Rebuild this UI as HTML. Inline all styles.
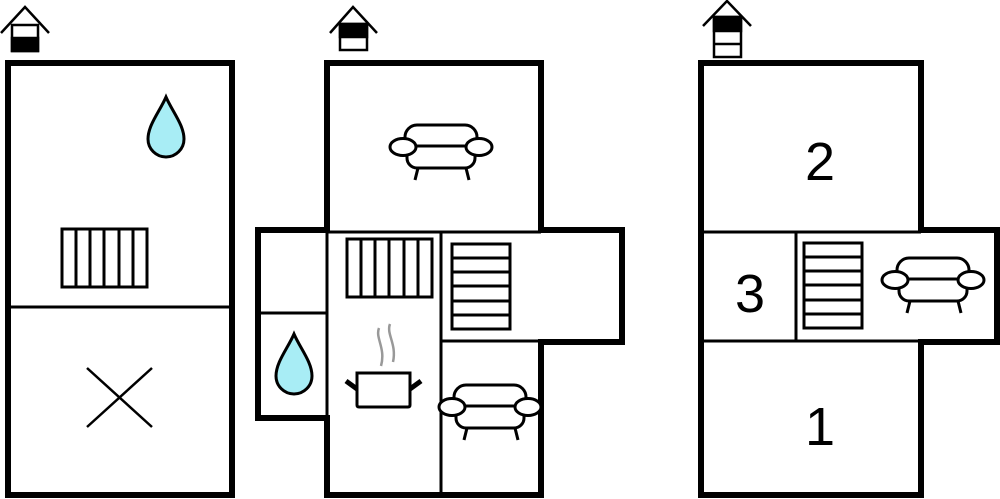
<!DOCTYPE html>
<html><head><meta charset="utf-8"><style>body{margin:0;background:#fff}svg{display:block}text{font-family:"Liberation Sans",sans-serif}</style></head><body>
<svg width="1000" height="499" viewBox="0 0 1000 499" xmlns="http://www.w3.org/2000/svg">
<defs>
<g id="sofa" fill="#fff" stroke="#000" stroke-width="3">
<rect x="-36" y="-23" width="72" height="28" rx="12"/>
<rect x="-34" y="-2" width="68" height="22" rx="10"/>
<ellipse cx="-38" cy="-1" rx="13" ry="8.5"/>
<ellipse cx="38" cy="-1" rx="13" ry="8.5"/>
<line x1="-23" y1="20" x2="-26" y2="32"/>
<line x1="25" y1="20" x2="28" y2="32"/>
</g>
<g id="drop"><path d="M0,0 C-6,14 -18,28 -18,42 A18,18 0 0 0 18,42 C18,28 6,14 0,0Z" fill="#a8edf5" stroke="#000" stroke-width="3"/></g>
<g id="stairsH" fill="none" stroke="#000" stroke-width="3">
<rect x="0" y="0" width="58" height="85"/>
<line x1="0" y1="14" x2="58" y2="14"/><line x1="0" y1="28" x2="58" y2="28"/><line x1="0" y1="42" x2="58" y2="42"/><line x1="0" y1="57" x2="58" y2="57"/><line x1="0" y1="71" x2="58" y2="71"/>
</g>
<g id="rad" fill="none" stroke="#000" stroke-width="3">
<rect x="0" y="0" width="85" height="58"/>
<line x1="14" y1="0" x2="14" y2="58"/><line x1="28" y1="0" x2="28" y2="58"/><line x1="42" y1="0" x2="42" y2="58"/><line x1="57" y1="0" x2="57" y2="58"/><line x1="71" y1="0" x2="71" y2="58"/>
</g>
</defs>
<!-- houses -->
<g stroke="#000" stroke-width="2.5" fill="none">
<polyline points="1,33 25,7 49,33"/>
<rect x="12" y="25" width="26" height="26" fill="#fff"/>
<rect x="12" y="38" width="26" height="13" fill="#000"/>
<polyline points="330,33 353,7 377,33"/>
<rect x="340" y="24" width="27" height="26" fill="#fff"/>
<rect x="340" y="24" width="27" height="13" fill="#000"/>
<polyline points="703,26 727,1 751,26"/>
<rect x="714" y="17" width="27" height="40" fill="#fff"/>
<rect x="714" y="17" width="27" height="14" fill="#000"/>
<line x1="714" y1="44" x2="741" y2="44"/>
</g>
<!-- plan 1 -->
<rect x="8" y="63" width="224" height="432" fill="none" stroke="#000" stroke-width="6"/>
<line x1="8" y1="307" x2="232" y2="307" stroke="#000" stroke-width="3"/>
<use href="#drop" x="166" y="97"/>
<use href="#rad" x="62" y="229"/>
<g stroke="#000" stroke-width="2.5"><line x1="87" y1="368" x2="152" y2="427"/><line x1="152" y1="368" x2="87" y2="427"/></g>
<!-- plan 2 -->
<g stroke="#000" stroke-width="3" fill="none">
<line x1="327" y1="232" x2="541" y2="232"/>
<line x1="258" y1="313" x2="327" y2="313"/>
<line x1="327" y1="232" x2="327" y2="418"/>
<line x1="441" y1="232" x2="441" y2="495"/>
<line x1="441" y1="341" x2="541" y2="341"/>
</g>
<polygon points="327,63 541,63 541,230 622,230 622,342 541,342 541,495 327,495 327,418 258,418 258,230 327,230" fill="none" stroke="#000" stroke-width="6"/>
<use href="#sofa" x="441" y="148"/>
<use href="#sofa" x="490" y="408"/>
<use href="#rad" x="347" y="239"/>
<use href="#stairsH" x="452" y="244"/>
<use href="#drop" x="294" y="334"/>
<g stroke="#000" stroke-width="3" fill="#fff">
<path d="M357,373 H410 V405 Q410,407 408,407 H359 Q357,407 357,405 Z"/>
</g>
<g stroke="#000" stroke-width="5"><line x1="346" y1="381" x2="357" y2="389"/><line x1="421" y1="381" x2="410" y2="389"/></g>
<g stroke="#999" stroke-width="2.5" fill="none"><path d="M379,328 C375,338 386,348 381,366"/><path d="M390,324 C386,334 397,344 393,362"/></g>
<!-- plan 3 -->
<g stroke="#000" stroke-width="3" fill="none">
<line x1="701" y1="232" x2="921" y2="232"/>
<line x1="701" y1="341" x2="921" y2="341"/>
<line x1="796" y1="232" x2="796" y2="341"/>
</g>
<polygon points="701,63 921,63 921,230 997,230 997,342 921,342 921,495 701,495" fill="none" stroke="#000" stroke-width="6"/>
<use href="#stairsH" x="804" y="243"/>
<use href="#sofa" x="933" y="281"/>
<g font-size="54" text-anchor="middle" fill="#000">
<text x="820" y="180">2</text>
<text x="750" y="312">3</text>
<text x="820" y="445">1</text>
</g>
</svg>
</body></html>
